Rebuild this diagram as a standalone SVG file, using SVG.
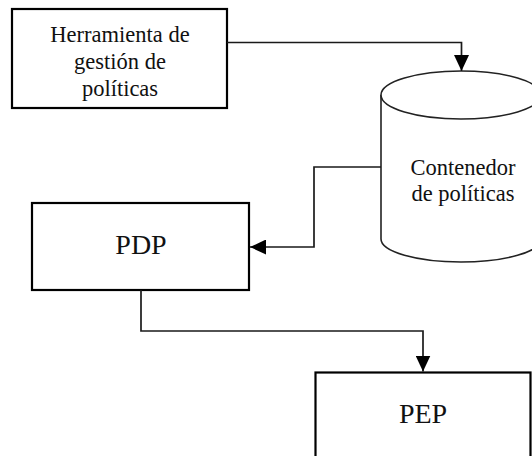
<svg xmlns="http://www.w3.org/2000/svg" width="532" height="456" viewBox="0 0 532 456">
<defs>
<style>
.box{fill:#fff;stroke:#000;stroke-width:2.2}
.cyl{fill:#fff;stroke:#222;stroke-width:1.6}
.conn{fill:none;stroke:#1a1a1a;stroke-width:1.7}
.t{font-family:"Liberation Serif","Times New Roman",serif;fill:#111;text-anchor:middle}
.s{font-size:22.5px}
.l{font-size:28px}
</style>
<marker id="ah" markerWidth="16" markerHeight="15" refX="16" refY="7.5" orient="auto" markerUnits="userSpaceOnUse" viewBox="0 0 16 15">
<path d="M0,0 L16,7.5 L0,15 Z" fill="#000"/>
</marker>
</defs>
<rect width="532" height="456" fill="#fff"/>
<g id="herramienta">
<rect class="box" x="12" y="9" width="215" height="99"/>
<text class="t s" x="120" y="42">Herramienta de</text>
<text class="t s" x="120" y="69">gestión de</text>
<text class="t s" x="120" y="95.5">políticas</text>
</g>
<g id="contenedor">
<path class="cyl" d="M381,95 V239 A80,23 0 0 0 541,239 V95"/>
<ellipse class="cyl" cx="461" cy="95" rx="80" ry="24"/>
<text class="t s" x="463" y="174.5">Contenedor</text>
<text class="t s" x="463" y="200.5">de políticas</text>
</g>
<g id="pdp">
<rect class="box" x="32" y="203" width="217" height="87"/>
<text class="t l" x="141" y="254">PDP</text>
</g>
<g id="pep">
<rect class="box" x="315.5" y="372.5" width="215" height="100"/>
<text class="t l" x="423" y="423">PEP</text>
</g>
<g id="connectors">
<path class="conn" d="M227,42.5 H461.5 V71" marker-end="url(#ah)"/>
<path class="conn" d="M381,167 H314 V247 H250" marker-end="url(#ah)"/>
<path class="conn" d="M141,290 V331 H423 V371.5" marker-end="url(#ah)"/>
</g>
</svg>
